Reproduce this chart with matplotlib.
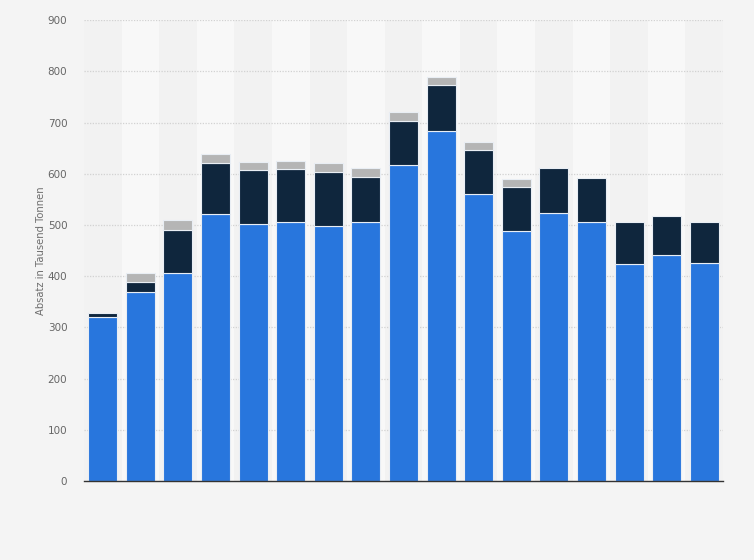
import matplotlib
matplotlib.use("Agg")
from matplotlib import pyplot as plt
import numpy as np

# values (thousand tonnes), one entry per bar
blue = [320, 369, 406, 521, 502, 506, 498, 505, 617, 683, 560, 488, 523, 506, 424, 442, 425]
navy = [9, 19, 85, 100, 105, 104, 106, 88, 87, 90, 86, 86, 88, 85, 81, 75, 80]
grey = [0, 19, 19, 17, 16, 15, 17, 18, 16, 16, 16, 16, 0, 0, 0, 0, 0]
yticks = [0, 100, 200, 300, 400, 500, 600, 700, 800, 900]

x = np.arange(len(blue))
blue = np.array(blue)
navy = np.array(navy)
grey = np.array(grey)

fig = plt.figure(figsize=(7.54, 5.6), dpi=100, facecolor="#f4f4f4")
ax = fig.add_axes([0.1114, 0.141, 0.8475, 0.823])
ax.set_facecolor("#f2f2f2")

# alternating column bands
for i in x:
    if i % 2 == 1:
        ax.axvspan(i - 0.5, i + 0.5, color="#f8f8f8", zorder=0, lw=0)

for v in yticks[1:]:
    ax.axhline(v, color="#d2d2d2", lw=0.9, ls=(0, (1, 1.2)), zorder=1)

w = 0.77
edge = dict(edgecolor="#e9eef4", linewidth=0.8, zorder=3)
ax.bar(x, blue, w, color="#2876dd", **edge)
ax.bar(x, navy, w, bottom=blue, color="#0f263d", **edge)
ax.bar(x[grey > 0], grey[grey > 0], w, bottom=(blue + navy)[grey > 0], color="#b5b5b5", **edge)

ax.set_xlim(-0.5, len(x) - 0.5)
ax.set_ylim(0, 900)
ax.set_yticks(yticks)
ax.set_xticks([])
ax.tick_params(axis="y", length=0, pad=12, labelsize=7.5, labelcolor="#666666")
for s in ["top", "right", "left"]:
    ax.spines[s].set_visible(False)
ax.spines["bottom"].set_color("#333333")
ax.spines["bottom"].set_linewidth(1.0)
ax.spines["bottom"].set_zorder(4)
ax.set_ylabel("Absatz in Tausend Tonnen", fontsize=7.2, color="#6e6e6e", labelpad=1)

fig.savefig("out.png", dpi=100, facecolor=fig.get_facecolor())
